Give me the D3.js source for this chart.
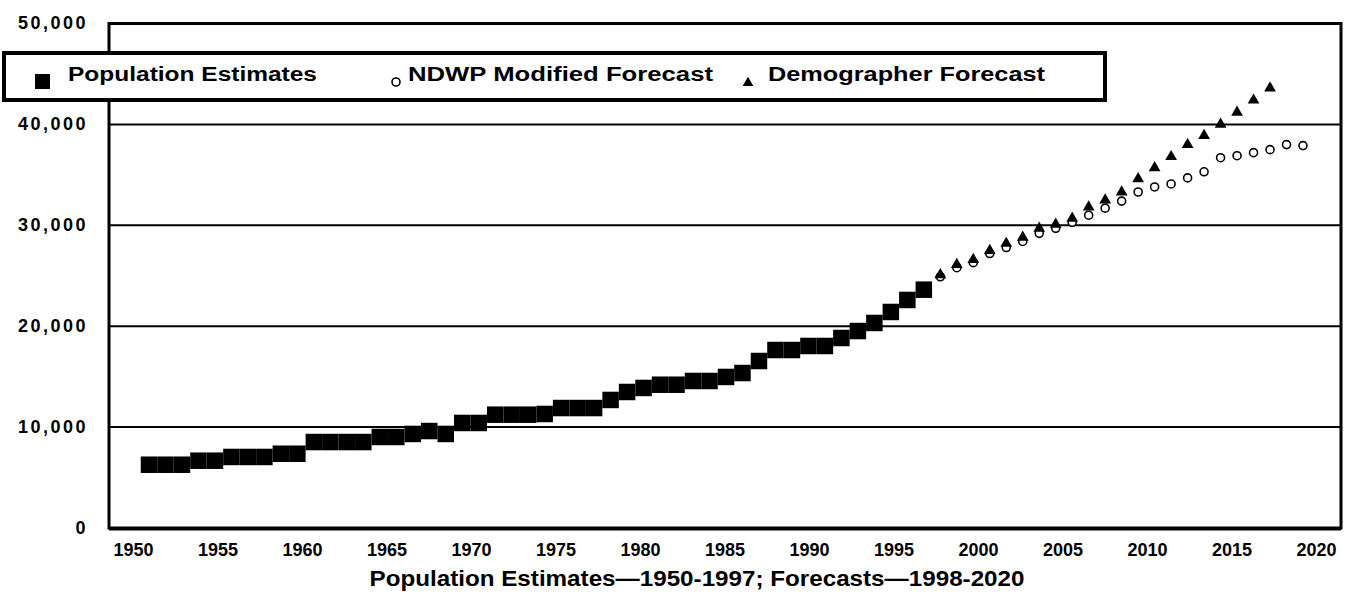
<!DOCTYPE html>
<html>
<head>
	<meta charset="utf-8">
	<title>Population Estimates and Forecasts</title>
	<style>
		body {
			margin: 0;
			padding: 0;
			background-color: white;
		}
		svg {
			display: block;
			font-family: "Liberation Sans", Arial, sans-serif;
		}
		.tick text {
			font-weight: bold;
			fill: black;
		}
	</style>
</head>
<body>
	<svg id="chart"></svg>
	<script src="https://d3js.org/d3.v7.min.js"></script>
	<script>
		// values
		const estimateYears = [1950, 1951, 1952, 1953, 1954, 1955, 1956, 1957, 1958, 1959,
			1960, 1961, 1962, 1963, 1964, 1965, 1966, 1967, 1968, 1969,
			1970, 1971, 1972, 1973, 1974, 1975, 1976, 1977, 1978, 1979,
			1980, 1981, 1982, 1983, 1984, 1985, 1986, 1987, 1988, 1989,
			1990, 1991, 1992, 1993, 1994, 1995, 1996, 1997];
		const estimateValues = [6270, 6270, 6270, 6670, 6670, 7040, 7040, 7040, 7360, 7360,
			8520, 8520, 8520, 8520, 9020, 9020, 9320, 9610, 9320, 10410,
			10410, 11230, 11230, 11230, 11300, 11890, 11890, 11890, 12690, 13480,
			13880, 14200, 14200, 14570, 14570, 14970, 15360, 16550, 17640, 17640,
			18040, 18040, 18830, 19520, 20320, 21410, 22600, 23620];

		const ndwpYears = [1998, 1999, 2000, 2001, 2002, 2003, 2004, 2005, 2006, 2007, 2008,
			2009, 2010, 2011, 2012, 2013, 2014, 2015, 2016, 2017, 2018, 2019, 2020];
		const ndwpValues = [24900, 25800, 26300, 27200, 27800, 28400, 29200, 29700, 30300, 31000, 31700,
			32400, 33300, 33800, 34100, 34700, 35300, 36700, 36900, 37200, 37500, 38000, 37900];

		const demographerYears = [1998, 1999, 2000, 2001, 2002, 2003, 2004, 2005, 2006, 2007, 2008,
			2009, 2010, 2011, 2012, 2013, 2014, 2015, 2016, 2017, 2018];
		const demographerValues = [25100, 26100, 26600, 27500, 28200, 28800, 29700, 30100, 30700, 31800, 32500,
			33300, 34600, 35700, 36800, 38000, 38900, 40000, 41200, 42400, 43600];

		const xTickYears = [1950, 1955, 1960, 1965, 1970, 1975, 1980, 1985, 1990, 1995, 2000, 2005, 2010, 2015, 2020];
		const yTickValues = [0, 10000, 20000, 30000, 40000, 50000];
		const legendLabels = ['Population Estimates', 'NDWP Modified Forecast', 'Demographer Forecast'];
		const xTitle = 'Population Estimates\u20141950-1997; Forecasts\u20141998-2020';

		const width = 1347;
		const height = 597;
		const plotLeft = 109, plotRight = 1341, plotTop = 23.5, plotBottom = 528;

		const svg = d3.select('#chart')
			.attr('width', width)
			.attr('height', height);

		// the marks and the year labels do not quite line up on the original
		const x = d3.scaleLinear().domain([1950, 2020]).range([149, 1303]);
		const xLabel = d3.scaleLinear().domain([1950, 2020]).range([133, 1316]);
		const y = d3.scaleLinear().domain([0, 50000]).range([plotBottom, plotTop]);

		// gridlines
		svg.append('g')
			.selectAll('line')
			.data(yTickValues.filter(d => d > 0 && d < 50000))
			.join('line')
			.attr('x1', plotLeft)
			.attr('x2', plotRight)
			.attr('y1', d => y(d))
			.attr('y2', d => y(d))
			.attr('stroke', 'black')
			.attr('stroke-width', 2);

		// plot frame
		svg.append('rect')
			.attr('x', plotLeft)
			.attr('y', plotTop)
			.attr('width', plotRight - plotLeft)
			.attr('height', plotBottom - plotTop)
			.attr('fill', 'none')
			.attr('stroke', 'black')
			.attr('stroke-width', 3);
		svg.append('line')
			.attr('x1', plotLeft)
			.attr('x2', plotRight)
			.attr('y1', plotBottom + 1)
			.attr('y2', plotBottom + 1)
			.attr('stroke', 'black')
			.attr('stroke-width', 3);

		// axes
		const yAxis = svg.append('g')
			.attr('transform', `translate(${plotLeft},0)`)
			.call(d3.axisLeft(y).tickValues(yTickValues).tickFormat(d3.format(',')).tickSize(0).tickPadding(21));
		yAxis.select('.domain').remove();
		yAxis.selectAll('text')
			.style('font-size', '18px')
			.style('letter-spacing', '2.5px')
			.attr('dy', '0.3em');

		const xAxis = svg.append('g')
			.attr('transform', `translate(0,${plotBottom})`)
			.call(d3.axisBottom(xLabel).tickValues(xTickYears).tickFormat(d3.format('d')).tickSize(0).tickPadding(15));
		xAxis.select('.domain').remove();
		xAxis.selectAll('text').style('font-size', '18px');

		svg.append('text')
			.attr('x', 697)
			.attr('y', 586)
			.attr('text-anchor', 'middle')
			.attr('textLength', 655)
			.attr('lengthAdjust', 'spacingAndGlyphs')
			.style('font-size', '22px')
			.style('font-weight', 'bold')
			.text(xTitle);

		// series
		const sq = 16.5;
		svg.append('g')
			.selectAll('rect')
			.data(estimateYears.map((yr, i) => [yr, estimateValues[i]]))
			.join('rect')
			.attr('x', d => x(d[0]) - sq / 2)
			.attr('y', d => y(d[1]) - sq / 2)
			.attr('width', sq)
			.attr('height', sq)
			.attr('fill', 'black');

		svg.append('g')
			.selectAll('circle')
			.data(ndwpYears.map((yr, i) => [yr, ndwpValues[i]]))
			.join('circle')
			.attr('cx', d => x(d[0]))
			.attr('cy', d => y(d[1]))
			.attr('r', 4)
			.attr('fill', 'white')
			.attr('stroke', 'black')
			.attr('stroke-width', 1.6);

		const tri = d3.symbol().type(d3.symbolTriangle).size(60);
		svg.append('g')
			.selectAll('path')
			.data(demographerYears.map((yr, i) => [yr, demographerValues[i]]))
			.join('path')
			.attr('d', tri)
			.attr('transform', d => `translate(${x(d[0])},${y(d[1])})`)
			.attr('fill', 'black');

		// legend
		const legend = svg.append('g');
		legend.append('rect')
			.attr('x', 4)
			.attr('y', 53)
			.attr('width', 1101)
			.attr('height', 47)
			.attr('fill', 'white')
			.attr('stroke', 'black')
			.attr('stroke-width', 4);

		legend.append('rect')
			.attr('x', 35).attr('y', 74)
			.attr('width', 15).attr('height', 15)
			.attr('fill', 'black');
		legend.append('circle')
			.attr('cx', 396).attr('cy', 82).attr('r', 4)
			.attr('fill', 'white').attr('stroke', 'black').attr('stroke-width', 1.6);
		legend.append('path')
			.attr('d', d3.symbol().type(d3.symbolTriangle).size(50))
			.attr('transform', 'translate(748,83)')
			.attr('fill', 'black');

		const legendPos = [[68, 249], [408, 305], [768, 277]];
		legend.selectAll('text')
			.data(legendLabels)
			.join('text')
			.attr('x', (d, i) => legendPos[i][0])
			.attr('y', 81)
			.attr('textLength', (d, i) => legendPos[i][1])
			.attr('lengthAdjust', 'spacingAndGlyphs')
			.style('font-size', '20px')
			.style('font-weight', 'bold')
			.text(d => d);
	</script>
</body>
</html>
